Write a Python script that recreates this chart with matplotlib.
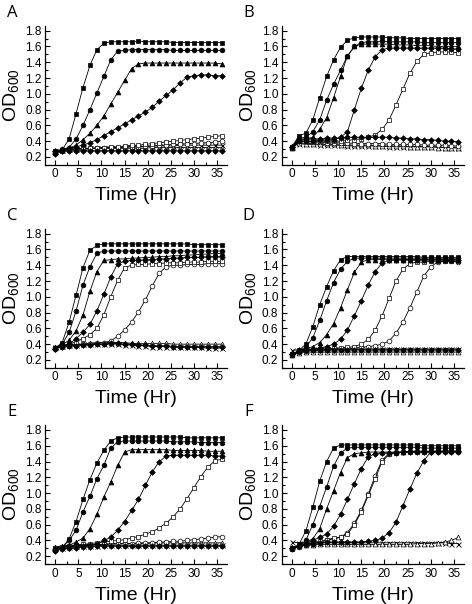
import matplotlib
matplotlib.use("Agg")
import matplotlib.pyplot as plt
from matplotlib.ticker import MultipleLocator

plt.rcParams["font.family"] = ["Liberation Sans", "DejaVu Sans"]
plt.rcParams["mathtext.default"] = "regular"

# sampling times (h)
t = [0, 1.5, 3, 4.5, 6, 7.5, 9, 10.5, 12, 13.5, 15, 16.5, 18, 19.5, 21,
     22.5, 24, 25.5, 27, 28.5, 30, 31.5, 33, 34.5, 36]

# panel A
a_fsq = [0.25,0.29,0.43,0.75,1.08,1.36,1.56,1.64,1.66,1.66,1.66,1.66,1.67,1.66,1.66,1.66,1.66,1.65,1.65,1.65,1.65,1.65,1.65,1.65,1.65]
a_fci = [0.27,0.30,0.32,0.43,0.60,0.80,1.01,1.22,1.43,1.54,1.55,1.56,1.56,1.56,1.56,1.56,1.56,1.55,1.55,1.55,1.55,1.55,1.55,1.55,1.55]
a_ftr = [0.27,0.29,0.31,0.35,0.42,0.50,0.60,0.72,0.87,1.02,1.17,1.32,1.38,1.39,1.39,1.39,1.39,1.39,1.39,1.39,1.39,1.39,1.39,1.39,1.38]
a_fdi = [0.27,0.29,0.31,0.33,0.35,0.38,0.42,0.47,0.52,0.57,0.62,0.67,0.72,0.77,0.83,0.91,0.98,1.05,1.14,1.21,1.23,1.24,1.24,1.23,1.23]
a_osq = [0.27,0.29,0.30,0.30,0.31,0.31,0.32,0.32,0.33,0.33,0.34,0.35,0.35,0.36,0.37,0.38,0.39,0.40,0.41,0.42,0.43,0.44,0.45,0.46,0.47]
a_oci = [0.26,0.28,0.29,0.30,0.30,0.31,0.31,0.31,0.32,0.32,0.32,0.33,0.33,0.34,0.34,0.35,0.35,0.36,0.36,0.37,0.37,0.38,0.38,0.39,0.40]
a_otr = [0.28,0.29,0.30,0.30,0.30,0.30,0.31,0.31,0.31,0.31,0.31,0.31,0.31,0.31,0.32,0.32,0.32,0.32,0.32,0.32,0.32,0.32,0.32,0.32,0.32]
a_x = [0.27,0.29,0.30,0.30,0.31,0.31,0.31,0.32,0.32,0.32,0.33,0.33,0.33,0.33,0.34,0.34,0.34,0.34,0.35,0.35,0.35,0.35,0.35,0.35,0.35]
a_fd2 = [0.24,0.27,0.28,0.28,0.28,0.28,0.28,0.28,0.28,0.28,0.28,0.28,0.28,0.28,0.28,0.28,0.28,0.28,0.28,0.28,0.28,0.28,0.28,0.28,0.28]

# panel B
b_fsq = [0.33,0.47,0.50,0.67,0.95,1.22,1.43,1.59,1.68,1.71,1.72,1.72,1.72,1.72,1.71,1.71,1.71,1.70,1.70,1.70,1.70,1.70,1.70,1.70,1.70]
b_fci = [0.33,0.44,0.45,0.52,0.67,0.92,1.12,1.30,1.48,1.60,1.65,1.66,1.66,1.67,1.66,1.66,1.66,1.66,1.66,1.65,1.65,1.65,1.65,1.65,1.65]
b_ftr = [0.33,0.42,0.43,0.45,0.55,0.70,0.95,1.22,1.48,1.60,1.63,1.63,1.63,1.63,1.63,1.62,1.62,1.62,1.61,1.61,1.61,1.60,1.60,1.60,1.60]
b_fdi = [0.33,0.40,0.40,0.40,0.41,0.42,0.42,0.45,0.52,0.80,1.07,1.30,1.47,1.56,1.58,1.58,1.58,1.58,1.58,1.58,1.58,1.58,1.58,1.57,1.57]
b_osq = [0.32,0.40,0.40,0.40,0.40,0.40,0.40,0.40,0.41,0.42,0.43,0.45,0.48,0.55,0.67,0.86,1.06,1.26,1.41,1.50,1.52,1.53,1.53,1.53,1.52]
b_oci = [0.32,0.40,0.40,0.39,0.39,0.38,0.38,0.38,0.38,0.37,0.37,0.37,0.37,0.37,0.36,0.36,0.36,0.36,0.36,0.35,0.35,0.35,0.35,0.34,0.34]
b_otr = [0.32,0.38,0.37,0.37,0.36,0.36,0.36,0.35,0.35,0.35,0.35,0.35,0.34,0.34,0.34,0.34,0.34,0.33,0.33,0.33,0.33,0.32,0.32,0.32,0.31]
b_x = [0.33,0.37,0.36,0.36,0.35,0.35,0.35,0.35,0.34,0.34,0.34,0.34,0.34,0.34,0.33,0.33,0.33,0.33,0.33,0.33,0.33,0.33,0.32,0.32,0.32]
b_fd2 = [0.33,0.42,0.43,0.43,0.43,0.44,0.44,0.44,0.45,0.45,0.45,0.45,0.45,0.45,0.45,0.44,0.44,0.43,0.43,0.42,0.42,0.41,0.40,0.40,0.39]

# panel C
c_fsq = [0.35,0.42,0.68,1.02,1.37,1.59,1.65,1.67,1.67,1.67,1.67,1.67,1.67,1.67,1.67,1.67,1.67,1.67,1.67,1.67,1.66,1.66,1.66,1.66,1.66]
c_fci = [0.35,0.40,0.55,0.82,1.15,1.38,1.55,1.58,1.58,1.58,1.58,1.58,1.58,1.58,1.58,1.58,1.58,1.58,1.58,1.58,1.58,1.58,1.58,1.58,1.58]
c_ftr = [0.35,0.39,0.45,0.57,0.77,1.07,1.32,1.46,1.47,1.48,1.48,1.49,1.49,1.50,1.50,1.51,1.51,1.52,1.52,1.53,1.53,1.54,1.54,1.55,1.55]
c_fdi = [0.34,0.38,0.40,0.47,0.55,0.65,0.82,1.03,1.25,1.42,1.45,1.46,1.46,1.47,1.47,1.48,1.48,1.49,1.49,1.50,1.50,1.50,1.51,1.51,1.51]
c_osq = [0.35,0.38,0.40,0.43,0.47,0.52,0.60,0.77,1.00,1.21,1.37,1.40,1.41,1.41,1.42,1.42,1.43,1.43,1.43,1.44,1.44,1.44,1.45,1.45,1.45]
c_oci = [0.35,0.37,0.38,0.39,0.40,0.40,0.41,0.42,0.44,0.50,0.58,0.68,0.81,0.96,1.14,1.30,1.38,1.40,1.40,1.41,1.41,1.41,1.42,1.42,1.42]
c_otr = [0.36,0.38,0.39,0.40,0.40,0.41,0.42,0.42,0.42,0.42,0.42,0.41,0.41,0.41,0.41,0.41,0.41,0.40,0.40,0.40,0.40,0.40,0.40,0.40,0.40]
c_x = [0.37,0.38,0.39,0.39,0.40,0.40,0.40,0.40,0.40,0.40,0.39,0.39,0.38,0.38,0.37,0.37,0.37,0.36,0.36,0.36,0.36,0.36,0.35,0.35,0.35]
c_fd2 = [0.34,0.37,0.38,0.38,0.39,0.39,0.40,0.40,0.41,0.41,0.40,0.40,0.39,0.39,0.38,0.38,0.38,0.37,0.37,0.37,0.37,0.37,0.37,0.37,0.37]

# panel D
d_fsq = [0.27,0.32,0.40,0.62,0.90,1.13,1.33,1.47,1.51,1.51,1.51,1.51,1.51,1.51,1.51,1.51,1.51,1.51,1.51,1.50,1.50,1.50,1.50,1.50,1.50]
d_fci = [0.27,0.31,0.36,0.48,0.70,0.95,1.18,1.35,1.45,1.49,1.49,1.49,1.49,1.49,1.49,1.49,1.49,1.49,1.49,1.49,1.49,1.49,1.49,1.49,1.49]
d_ftr = [0.27,0.31,0.34,0.37,0.42,0.52,0.66,0.86,1.09,1.31,1.44,1.47,1.47,1.47,1.47,1.47,1.47,1.47,1.47,1.47,1.47,1.47,1.47,1.47,1.47]
d_fdi = [0.27,0.32,0.33,0.34,0.35,0.37,0.40,0.46,0.58,0.76,0.95,1.15,1.32,1.43,1.46,1.47,1.47,1.47,1.47,1.47,1.47,1.47,1.47,1.47,1.47]
d_osq = [0.27,0.31,0.32,0.33,0.33,0.34,0.35,0.35,0.36,0.37,0.40,0.46,0.58,0.76,0.98,1.20,1.35,1.42,1.44,1.44,1.45,1.45,1.45,1.45,1.45]
d_oci = [0.26,0.30,0.31,0.32,0.32,0.33,0.33,0.34,0.34,0.35,0.36,0.37,0.38,0.40,0.44,0.54,0.68,0.86,1.06,1.26,1.38,1.44,1.45,1.45,1.44]
d_otr = [0.26,0.29,0.30,0.30,0.30,0.30,0.30,0.30,0.30,0.30,0.30,0.30,0.30,0.30,0.30,0.30,0.30,0.30,0.30,0.30,0.30,0.30,0.30,0.30,0.30]
d_x = [0.32,0.33,0.33,0.34,0.34,0.34,0.34,0.34,0.34,0.34,0.34,0.34,0.34,0.34,0.34,0.34,0.34,0.34,0.34,0.34,0.34,0.34,0.34,0.34,0.34]
d_fd2 = [0.27,0.31,0.32,0.32,0.32,0.33,0.33,0.33,0.33,0.33,0.33,0.33,0.33,0.33,0.33,0.33,0.33,0.33,0.33,0.33,0.33,0.33,0.33,0.33,0.33]

# panel E
e_fsq = [0.28,0.31,0.42,0.64,0.92,1.17,1.38,1.54,1.66,1.70,1.71,1.71,1.71,1.71,1.71,1.71,1.71,1.71,1.71,1.70,1.70,1.70,1.70,1.70,1.70]
e_fci = [0.29,0.31,0.40,0.53,0.76,0.96,1.18,1.35,1.57,1.65,1.66,1.66,1.66,1.66,1.66,1.66,1.66,1.65,1.65,1.65,1.65,1.64,1.64,1.64,1.64]
e_ftr = [0.30,0.32,0.34,0.38,0.43,0.55,0.73,0.95,1.14,1.35,1.52,1.55,1.55,1.55,1.55,1.55,1.55,1.54,1.54,1.54,1.54,1.54,1.53,1.53,1.53]
e_fdi = [0.28,0.30,0.31,0.32,0.33,0.34,0.36,0.40,0.44,0.53,0.64,0.78,0.92,1.10,1.27,1.40,1.47,1.48,1.48,1.48,1.48,1.48,1.48,1.47,1.47]
e_osq = [0.30,0.32,0.33,0.34,0.35,0.36,0.37,0.38,0.39,0.40,0.41,0.43,0.45,0.48,0.51,0.56,0.62,0.70,0.80,0.93,1.07,1.21,1.33,1.41,1.43]
e_oci = [0.30,0.32,0.33,0.33,0.34,0.34,0.35,0.35,0.35,0.36,0.36,0.36,0.37,0.37,0.37,0.38,0.38,0.39,0.39,0.40,0.41,0.42,0.43,0.44,0.45]
e_otr = [0.32,0.33,0.34,0.34,0.35,0.35,0.35,0.35,0.36,0.36,0.36,0.36,0.36,0.36,0.37,0.37,0.37,0.37,0.37,0.37,0.37,0.37,0.37,0.37,0.37]
e_x = [0.30,0.31,0.32,0.33,0.33,0.33,0.33,0.34,0.34,0.34,0.34,0.34,0.34,0.34,0.34,0.34,0.34,0.34,0.34,0.34,0.34,0.34,0.34,0.34,0.34]
e_fd2 = [0.27,0.29,0.30,0.31,0.32,0.32,0.33,0.33,0.33,0.33,0.33,0.33,0.33,0.33,0.33,0.33,0.33,0.33,0.33,0.33,0.33,0.33,0.33,0.33,0.33]

# panel F
f_fsq = [0.30,0.35,0.52,0.82,1.15,1.40,1.57,1.61,1.61,1.61,1.61,1.61,1.61,1.61,1.61,1.61,1.61,1.61,1.61,1.60,1.60,1.60,1.60,1.60,1.60]
f_fci = [0.29,0.33,0.40,0.60,0.83,1.08,1.34,1.51,1.57,1.58,1.58,1.58,1.58,1.58,1.58,1.58,1.58,1.58,1.58,1.57,1.57,1.57,1.57,1.57,1.57]
f_ftr = [0.30,0.34,0.38,0.42,0.55,0.80,1.03,1.26,1.45,1.50,1.51,1.52,1.52,1.52,1.52,1.52,1.52,1.53,1.53,1.53,1.53,1.53,1.53,1.53,1.53]
f_fdi = [0.30,0.33,0.36,0.40,0.44,0.48,0.58,0.73,0.92,1.12,1.31,1.46,1.50,1.51,1.51,1.51,1.52,1.52,1.52,1.52,1.52,1.52,1.52,1.52,1.52]
f_osq = [0.30,0.33,0.35,0.37,0.39,0.41,0.43,0.44,0.48,0.60,0.76,0.97,1.18,1.40,1.49,1.51,1.52,1.52,1.52,1.52,1.53,1.53,1.53,1.53,1.53]
f_oci = [0.29,0.32,0.34,0.36,0.38,0.40,0.42,0.44,0.50,0.62,0.78,0.99,1.22,1.42,1.50,1.52,1.52,1.53,1.53,1.53,1.53,1.53,1.53,1.53,1.53]
f_otr = [0.31,0.33,0.34,0.34,0.35,0.35,0.35,0.35,0.35,0.35,0.35,0.35,0.35,0.35,0.35,0.35,0.35,0.35,0.36,0.36,0.36,0.37,0.38,0.40,0.44]
f_x = [0.38,0.37,0.37,0.37,0.37,0.37,0.37,0.37,0.37,0.37,0.37,0.37,0.37,0.37,0.37,0.37,0.37,0.37,0.37,0.37,0.37,0.37,0.37,0.36,0.36]
f_fd2 = [0.30,0.33,0.35,0.36,0.37,0.38,0.38,0.38,0.38,0.38,0.38,0.39,0.40,0.43,0.50,0.63,0.84,1.05,1.25,1.41,1.52,1.53,1.53,1.53,1.53]

# marker, face colour for each series (same order in every panel)
styles = [("x", "k"), ("^", "white"), ("o", "white"), ("s", "white"),
          ("D", "k"), ("D", "k"), ("^", "k"), ("o", "k"), ("s", "k")]

panels = [
    ("A", [a_x, a_otr, a_oci, a_osq, a_fd2, a_fdi, a_ftr, a_fci, a_fsq]),
    ("B", [b_x, b_otr, b_oci, b_osq, b_fd2, b_fdi, b_ftr, b_fci, b_fsq]),
    ("C", [c_x, c_otr, c_oci, c_osq, c_fd2, c_fdi, c_ftr, c_fci, c_fsq]),
    ("D", [d_x, d_otr, d_oci, d_osq, d_fd2, d_fdi, d_ftr, d_fci, d_fsq]),
    ("E", [e_x, e_otr, e_oci, e_osq, e_fd2, e_fdi, e_ftr, e_fci, e_fsq]),
    ("F", [f_x, f_otr, f_oci, f_osq, f_fd2, f_fdi, f_ftr, f_fci, f_fsq]),
]

sizes = {"s": 2.9, "D": 2.9, "o": 3.4, "^": 3.5}

fig = plt.figure(figsize=(4.72, 6.04), dpi=100)

lefts = [0.0955, 0.597]
bottoms = [0.727, 0.391, 0.066]
w, h = 0.386, 0.230

for i, (label, series) in enumerate(panels):
    row, col = divmod(i, 2)
    ax = fig.add_axes([lefts[col], bottoms[row], w, h])
    for ys, (mk, fc) in zip(series, styles):
        if mk == "x":
            ax.plot(t, ys, "-", color="k", lw=0.6, marker="x", ms=3.6,
                    mew=0.6)
        else:
            ax.plot(t, ys, "-", color="k", lw=0.6, marker=mk, ms=sizes[mk],
                    mfc=fc, mec="k", mew=0.5)

    ax.set_xlim(-2.2, 37.2)
    ax.set_ylim(0.1, 1.86)
    ax.xaxis.set_major_locator(MultipleLocator(5))
    ax.xaxis.set_minor_locator(MultipleLocator(2.5))
    ax.yaxis.set_minor_locator(MultipleLocator(0.1))
    ax.set_yticks([0.2, 0.4, 0.6, 0.8, 1.0, 1.2, 1.4, 1.6, 1.8])
    ax.set_yticklabels(["0.2", "0.4", "0.6", "0.8", "1.0", "1.2", "1.4",
                        "1.6", "1.8"])
    ax.tick_params(which="both", direction="in", labelsize=8.5, width=0.8,
                   pad=2.5)
    ax.tick_params(which="major", length=3.5)
    ax.tick_params(which="minor", length=2)
    for s in ("top", "right"):
        ax.spines[s].set_visible(False)
    for s in ("left", "bottom"):
        ax.spines[s].set_linewidth(0.9)

    ax.set_xlabel("Time (Hr)", fontsize=14, labelpad=5)
    ax.set_ylabel("OD$_{600}$", fontsize=14, labelpad=3)

    fig.text(lefts[col] - 0.07, bottoms[row] + h + 0.022, label,
             fontsize=12, family=["Open Sans", "DejaVu Sans"],
             ha="center", va="center")

fig.savefig("out.png", dpi=100)
plt.close(fig)
